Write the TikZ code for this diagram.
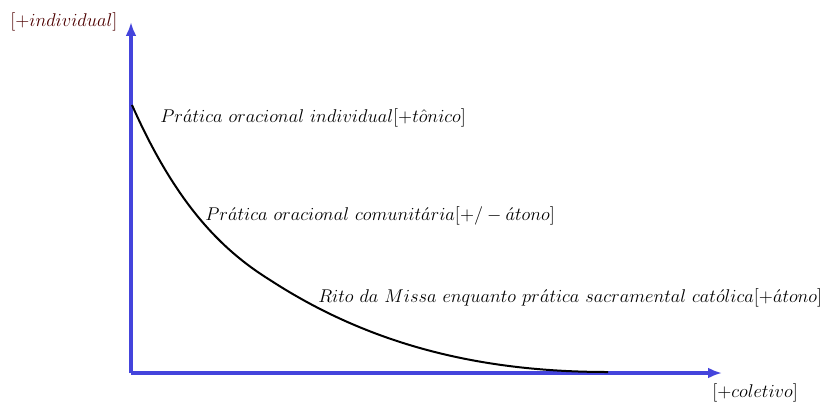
\documentclass[tikz,border=0pt]{standalone}
\usetikzlibrary{arrows.meta}
\definecolor{axisblue}{RGB}{68,68,220}
\definecolor{labelbrown}{RGB}{77,0,0}
\begin{document}
\begin{tikzpicture}[x=0.65pt, y=-0.65pt,
  axis/.style={axisblue, line width=2pt, -{Latex[length=9pt, width=7pt]}},
  lbl/.style={anchor=west, inner sep=0pt, font=\fontsize{12}{14}\selectfont}]
  \useasboundingbox (0,0) rectangle (829,403);

  % The axes
  \coordinate (o) at (131,373);
  \coordinate (ytip) at (131,22);
  \coordinate (xtip) at (722,373);
  \draw[axis] (o) -- (ytip);
  \draw[axis] (o) -- (xtip);
  \node[lbl, labelbrown] (ylab) at (10,22) {$[+individual]$};
  \node[lbl] (xlab) at (712,393) {$[+coletivo]$};

  % The curve
  \coordinate (c0) at (132,105);
  \coordinate (c1) at (270,280);
  \coordinate (c2) at (608,372);
  \draw[black, line width=1.3pt] (c0) .. controls (175,202) and (220,249) .. (c1)
    .. controls (370,345) and (480,372) .. (c2);

  % The labels on the curve
  \node[lbl] (p1) at (160,118) {$Pr\acute{a}tica\ oracional\ individual[+t\hat{o}nico]$};
  \node[lbl] (p2) at (205,216) {$Pr\acute{a}tica\ oracional\ comunit\acute{a}ria[+/-\acute{a}tono]$};
  \node[lbl] (p3) at (318,298) {$Rito\ da\ Missa\ enquanto\ pr\acute{a}tica\ sacramental\ cat\acute{o}lica[+\acute{a}tono]$};

\end{tikzpicture}
\end{document}
